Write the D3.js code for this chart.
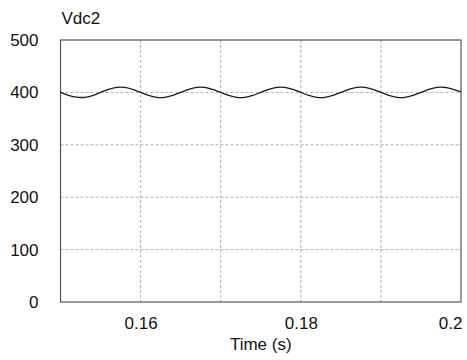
<!DOCTYPE html>
<html>
<head>
<meta charset="utf-8">
<script src="https://cdn.jsdelivr.net/npm/d3@7"></script>
<style>
  body { margin: 0; background: #fff; }
  svg text { font-family: "Liberation Sans", Arial, sans-serif; fill: #111; }
</style>
</head>
<body>
<div id="chart"></div>
<script>
// time samples (s), every 1 ms
var time = [];
for (var k = 0; k <= 50; k++) time.push(0.15 + k * 0.001);

// Vdc2 values
var vdc2 = [
  400.0, 394.3, 390.8, 390.6, 394.0, 400.0, 405.8, 409.4, 409.6, 406.0,
  400.1, 394.2, 390.7, 390.6, 394.1, 400.0, 405.9, 409.5, 409.6, 405.9,
  400.0, 394.2, 390.6, 390.6, 394.1, 400.1, 406.0, 409.6, 409.5, 405.8,
  400.0, 394.1, 390.6, 390.7, 394.2, 400.0, 405.9, 409.5, 409.6, 405.9,
  400.1, 394.2, 390.6, 390.6, 394.1, 400.0, 405.9, 409.6, 409.5, 405.9,
  401.0
];

var yTicks = [0, 100, 200, 300, 400, 500];
var xTicks = [0.16, 0.18, 0.2];
var xGrid = [0.16, 0.17, 0.18, 0.19];
var yGrid = [100, 200, 300, 400];

var margin = {top: 40, right: 6, bottom: 58, left: 60.5},
    width = 467 - margin.left - margin.right,
    height = 360 - margin.top - margin.bottom;

var svg = d3.select("#chart")
  .append("svg")
    .attr("width", 467)
    .attr("height", 360)
  .append("g")
    .attr("transform", "translate(" + margin.left + "," + margin.top + ")");

var x = d3.scaleLinear().domain([0.15, 0.2]).range([0, width]);
var y = d3.scaleLinear().domain([0, 500]).range([height, 0]);

// grid
svg.selectAll(".xg").data(xGrid).enter().append("line")
  .attr("x1", function(d) { return x(d); })
  .attr("x2", function(d) { return x(d); })
  .attr("y1", 0).attr("y2", height)
  .style("stroke", "#b0b0b0").style("stroke-dasharray", "3,2").style("stroke-width", 1);

svg.selectAll(".yg").data(yGrid).enter().append("line")
  .attr("x1", 0).attr("x2", width)
  .attr("y1", function(d) { return y(d); })
  .attr("y2", function(d) { return y(d); })
  .style("stroke", "#b0b0b0").style("stroke-dasharray", "3,2").style("stroke-width", 1);

// axes (labels only)
var xa = svg.append("g")
  .attr("transform", "translate(0," + height + ")")
  .call(d3.axisBottom(x).tickValues(xTicks).tickSize(0).tickPadding(15)
    .tickFormat(function(d) { return d3.format("")(+d.toFixed(2)); }))
  .call(function(g) { g.select(".domain").remove(); });
xa.selectAll("text").style("font-size", "17px");
// last label sits inside the right edge
xa.selectAll(".tick").filter(function(d) { return d === 0.2; })
  .select("text").attr("text-anchor", "end").attr("x", 1);

svg.append("g")
  .call(d3.axisLeft(y).tickValues(yTicks).tickSize(0).tickPadding(22))
  .call(function(g) { g.select(".domain").remove(); })
  .selectAll("text").style("font-size", "17px");

// frame
svg.append("rect")
  .attr("x", 0).attr("y", 0).attr("width", width).attr("height", height)
  .style("fill", "none").style("stroke", "#555").style("stroke-width", 1.2);

// waveform
var line = d3.line()
  .x(function(d, i) { return x(time[i]); })
  .y(function(d) { return y(d); })
  .curve(d3.curveCatmullRom);

svg.append("path")
  .datum(vdc2)
  .attr("d", line)
  .style("fill", "none").style("stroke", "#1a1a1a").style("stroke-width", 1.3);

// title and axis label
svg.append("text")
  .attr("x", 1).attr("y", -16)
  .style("font-size", "17px")
  .text("Vdc2");

svg.append("text")
  .attr("x", width / 2).attr("y", height + 48)
  .attr("text-anchor", "middle")
  .style("font-size", "17px")
  .text("Time (s)");
</script>
</body>
</html>
